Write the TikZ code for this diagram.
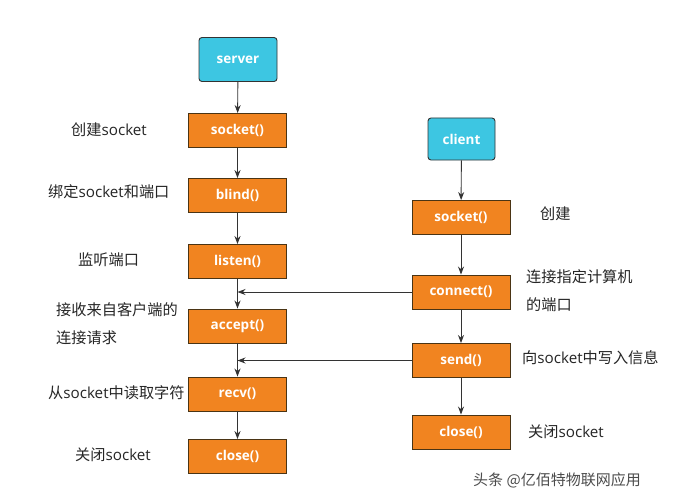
\documentclass[tikz,border=0pt]{standalone}
\usepackage{fontspec}
\setmainfont{Open Sans}
\newfontfamily\cjk{Noto Sans CJK SC}
\usetikzlibrary{arrows.meta}
\definecolor{boxor}{HTML}{F18420}
\definecolor{boxcy}{HTML}{3DC6E2}
\definecolor{edge}{HTML}{4A3414}
\definecolor{line}{HTML}{333333}
\tikzset{
  fn/.style={draw=edge, line width=0.9pt, fill=boxor, minimum width=98pt, minimum height=34pt, inner sep=0pt, text=white, font=\fontsize{13.5}{15}\selectfont\bfseries},
  role/.style={draw=line, line width=0.9pt, fill=boxcy, rounded corners=3pt, minimum width=78pt, minimum height=44pt, inner sep=0pt, text=white, font=\fontsize{13.5}{15}\selectfont\bfseries},
  lbl/.style={inner sep=0pt, text=black!85, font=\fontsize{15.2}{28}\selectfont, align=left},
  arr/.style={draw=line, line width=0.9pt, -{Stealth[length=8pt,width=6pt]}},
}
\begin{document}
\begin{tikzpicture}[x=1pt,y=-1pt]
\fill[white] (0,0) rectangle (682,500);
\useasboundingbox (0,0) rectangle (682,500);
% server column
\node[role] (srv) at (238,59.5) {server};
\node[fn] (s1) at (237.5,130.5) {socket()};
\node[fn] (s2) at (237.5,195.5) {blind()};
\node[fn] (s3) at (237.5,261.5) {listen()};
\node[fn] (s4) at (237.5,326) {accept()};
\node[fn] (s5) at (237.5,394) {recv()};
\node[fn] (s6) at (237.5,456.5) {close()};
% client column
\node[role, minimum width=67pt, minimum height=42pt] (cli) at (461.5,139) {client};
\node[fn] (c1) at (461,217.5) {socket()};
\node[fn] (c2) at (461,292) {connect()};
\node[fn] (c3) at (461,360.5) {send()};
\node[fn] (c4) at (461,432) {close()};
% vertical arrows
\draw[arr] (srv) -- (s1);
\draw[arr] (s1) -- (s2);
\draw[arr] (s2) -- (s3);
\draw[arr] (s3) -- (s4);
\draw[arr] (s4) -- (s5);
\draw[arr] (s5) -- (s6);
\draw[arr] (cli) -- (c1);
\draw[arr] (c1) -- (c2);
\draw[arr] (c2) -- (c3);
\draw[arr] (c3) -- (c4);
% horizontal arrows
\coordinate (j1) at (s3.south |- c2.west);
\coordinate (j2) at (s4.south |- c3.west);
\draw[arr] (c2.west) -- (j1);
\draw[arr] (c3.west) -- (j2);
% left labels
\node[lbl, anchor=west] (l1) at (71,130) {{\cjk 创建}socket};
\node[lbl, anchor=west] (l2) at (48,192) {{\cjk 绑定}socket{\cjk 和端口}};
\node[lbl, anchor=west] (l3) at (78,260) {\cjk 监听端口};
\node[lbl, anchor=west] (l4) at (56,324) {{\cjk 接收来自客户端的}\\{\cjk 连接请求}};
\node[lbl, anchor=west] (l5) at (48,393) {{\cjk 从}socket{\cjk 中读取字符}};
\node[lbl, anchor=west] (l6) at (75,455) {{\cjk 关闭}socket};
% right labels
\node[lbl, anchor=west] (r1) at (540,214) {\cjk 创建};
\node[lbl, anchor=west] (r2) at (526,291) {{\cjk 连接指定计算机}\\{\cjk 的端口}};
\node[lbl, anchor=west] (r3) at (522,358) {{\cjk 向}socket{\cjk 中写入信息}};
\node[lbl, anchor=west] (r4) at (528,432) {{\cjk 关闭}socket};
% watermark
\node[inner sep=0pt, text=black!70, font=\fontsize{15}{17}\selectfont\cjk, anchor=west] (wm) at (473,480) {头条 @亿佰特物联网应用};
\end{tikzpicture}
\end{document}
